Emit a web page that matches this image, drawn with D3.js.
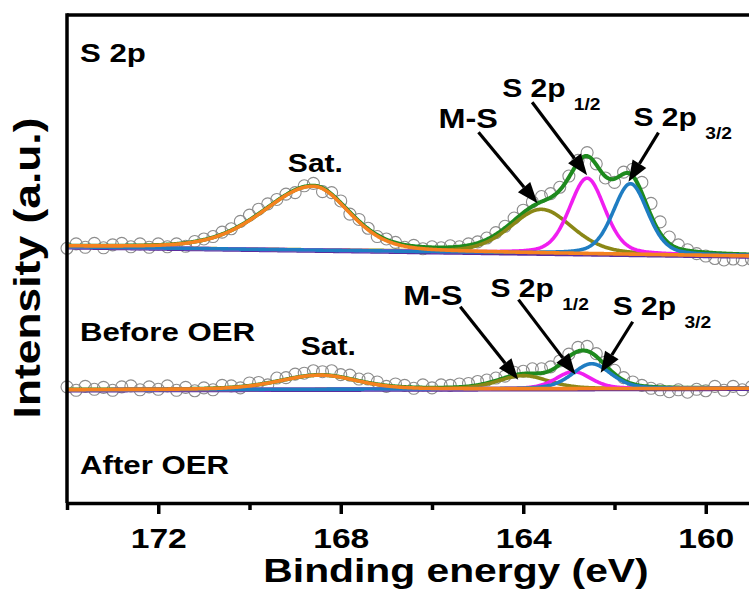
<!DOCTYPE html>
<html>
<head>
<meta charset="utf-8">
<script src="https://cdn.jsdelivr.net/npm/d3@7"></script>
<style>
  body { margin: 0; background: #fff; }
  svg { display: block; font-family: Arial, "Liberation Sans", sans-serif; font-weight: bold; }
</style>
</head>
<body>
<div class="chart"></div>
<script>
// ---- data (binding energy in eV, intensity in a.u.) ----
const energyStart = 174, energyStep = 0.2;   // measured points run 174.0 -> 159.0

// S 2p, before OER (one row per eV)
const beforeCounts = [
  52.2,
  53.1, 52.4, 53.2, 52.3, 52.9,
  53.2, 52.5, 53.1, 52.4, 53.1,
  52.5, 53.1, 52.6, 53.6, 54.1,
  54.6, 55.5, 56.2, 57.7, 59.0,
  60.2, 61.3, 62.2, 63.3, 63.6,
  65.0, 65.5, 63.8, 63.6, 61.9,
  59.2, 58.1, 56.3, 54.6, 54.1,
  53.4, 52.4, 52.8, 52.1, 52.5,
  52.3, 52.7, 52.5, 53.1, 53.5,
  54.3, 55.4, 56.7, 58.4, 60.0,
  61.7, 62.8, 63.4, 64.7, 67.0,
  70.2, 71.8, 69.5, 66.6, 65.7,
  67.8, 68.4, 65.7, 61.4, 57.6,
  54.5, 52.9, 51.9, 51.1, 50.6,
  50.1, 49.8, 50.0, 49.8, 50.0
];

// S 2p, after OER
const afterCounts = [
  23.8,
  23.1, 23.9, 23.3, 23.7, 23.1,
  23.8, 24.0, 23.2, 23.8, 23.3,
  24.0, 23.1, 23.7, 23.0, 23.6,
  23.2, 24.1, 24.0, 23.6, 24.6,
  24.7, 24.2, 25.6, 25.7, 26.4,
  26.6, 27.1, 26.9, 27.1, 26.3,
  26.2, 25.4, 25.4, 24.8, 23.9,
  24.4, 24.1, 23.5, 24.2, 23.6,
  24.2, 24.1, 24.4, 24.5, 24.9,
  25.2, 25.6, 26.0, 26.8, 27.0,
  27.5, 27.5, 27.9, 29.1, 30.5,
  31.9, 32.1, 30.6, 28.9, 27.2,
  25.7, 24.8, 24.1, 23.5, 23.2,
  22.8, 23.2, 22.7, 23.3, 23.0,
  23.9, 23.1, 23.9, 23.2, 23.8
];

// fitted components: Sat., M-S, S 2p1/2, S 2p3/2
const peakNames = ['Sat.', 'M-S', 'S 2p', 'S 2p'];
const peakSubs = ['', '', '1/2', '3/2'];

const beforeCenters = [168.6, 163.6, 162.6, 161.65];
const beforeHeights = [13.1, 9.0, 15.5, 14.5];
const beforeWidthsHigh = [2.6, 1.6, 0.92, 0.9];   // FWHM on the high-BE side
const beforeWidthsLow = [1.85, 1.6, 0.92, 0.9];   // FWHM on the low-BE side
const beforeBackground = [52.5, 50.6];            // at 174 eV and 159 eV

const afterCenters = [168.45, 164.0, 162.9, 162.5];
const afterHeights = [2.9, 2.7, 3.5, 5.1];
const afterWidthsHigh = [2.1, 1.3, 0.9, 1.0];
const afterWidthsLow = [1.9, 1.3, 0.9, 1.0];
const afterBackground = [23.2, 23.5];

const majorTicks = [172, 168, 164, 160];
const minorTicks = [174, 170, 166, 162, 158];

// ---- styles ----
const peakColors = ['#f5821f', '#8a8716', '#f01ef0', '#1f7dc2'];
const envelopeColor = '#1e8a1e';
const backgroundColor = '#5b2d9e';
const SX = 1.2;   // the lettering in the source figure is stretched sideways
const mix = 0.3;  // lorentzian share of the pseudo-voigt

const container = d3.select('.chart');
const outerW = 749, outerH = 592;
const margin = { left: 67, top: 15, bottom: 89 };

const x = d3.scaleLinear().domain([174, 158]).range([margin.left, margin.left + 730]);
const y = d3.scaleLinear().domain([0, 100]).range([outerH - margin.bottom, margin.top]);

function voigt(e, c, h, wHigh, wLow) {
  const t = (e - c) / (e > c ? wHigh : wLow);
  const t2 = t * t;
  return h * ((1 - mix) * Math.exp(-4 * Math.LN2 * t2) + mix / (1 + 4 * t2));
}

function text(g, str, px, py, size, anchor) {
  return g.append('g')
    .attr('transform', `translate(${px},${py}) scale(${SX},1)`)
    .append('text')
    .attr('font-size', size)
    .attr('text-anchor', anchor || 'start')
    .text(str);
}

function arrow(g, x1, y1, x2, y2) {
  const a = Math.atan2(y2 - y1, x2 - x1);
  const len = 21, half = 8;
  const bx = x2 - len * Math.cos(a), by = y2 - len * Math.sin(a);
  g.append('line')
    .attr('x1', x1).attr('y1', y1)
    .attr('x2', bx).attr('y2', by)
    .attr('stroke', '#000').attr('stroke-width', 3.2);
  g.append('path')
    .attr('d', `M${x2},${y2}L${bx + half * Math.sin(a)},${by - half * Math.cos(a)}L${bx - half * Math.sin(a)},${by + half * Math.cos(a)}Z`)
    .attr('fill', '#000');
}

function build() {
  container.selectAll('*').remove();

  const svg = container.append('svg')
    .attr('width', outerW)
    .attr('height', outerH);

  const spectra = [
    { counts: beforeCounts, centers: beforeCenters, heights: beforeHeights,
      wHigh: beforeWidthsHigh, wLow: beforeWidthsLow, bg: beforeBackground,
      sat: [2, -14],
      notes: [
        { k: 1, tip: [-4, -6], tail: [-63, -77], label: [-103, -81] },
        { k: 2, tip: [0, -3], tail: [-55, -76], label: [-85, -81] },
        { k: 3, tip: [-2, -2], tail: [28, -51], label: [3, -58] }
      ] },
    { counts: afterCounts, centers: afterCenters, heights: afterHeights,
      wHigh: afterWidthsHigh, wLow: afterWidthsLow, bg: afterBackground,
      sat: [8, -20],
      notes: [
        { k: 1, tip: [-5, 4], tail: [-63, -69], label: [-120, -71] },
        { k: 2, tip: [2, 3], tail: [-55, -72], label: [-83, -75] },
        { k: 3, tip: [9, 9], tail: [41, -42], label: [21, -49] }
      ] }
  ];

  const grid = d3.range(158, 174.0001, 0.02);
  const line = d3.line().x(d => x(d[0])).y(d => y(d[1]));

  const plot = svg.append('g');

  spectra.forEach(s => {
    const bgAt = e => s.bg[0] + (s.bg[1] - s.bg[0]) * (174 - e) / 15;
    const comp = (k, e) => voigt(e, s.centers[k], s.heights[k], s.wHigh[k], s.wLow[k]);

    // measured points
    plot.append('g')
      .selectAll('circle')
      .data(s.counts)
      .join('circle')
      .attr('cx', (d, i) => x(energyStart - i * energyStep))
      .attr('cy', d => y(d))
      .attr('r', 6)
      .attr('fill', 'none')
      .attr('stroke', '#8c8c8c')
      .attr('stroke-width', 1.1);

    // background
    plot.append('path')
      .attr('d', line(grid.map(e => [e, bgAt(e) - 0.25])))
      .attr('fill', 'none').attr('stroke', backgroundColor).attr('stroke-width', 3);

    // envelope
    plot.append('path')
      .attr('d', line(grid.map(e => [e, bgAt(e) + d3.sum(s.centers, (c, k) => comp(k, e))])))
      .attr('fill', 'none').attr('stroke', envelopeColor).attr('stroke-width', 4);

    // components, satellite drawn last
    [1, 2, 3, 0].forEach(k => {
      plot.append('path')
        .attr('d', line(grid.map(e => [e, bgAt(e) + comp(k, e)])))
        .attr('fill', 'none').attr('stroke', peakColors[k]).attr('stroke-width', 3.6);
    });

    // annotations
    const peakX = k => x(s.centers[k]);
    const peakY = k => y(bgAt(s.centers[k]) + s.heights[k]);

    text(svg, peakNames[0], peakX(0) + s.sat[0], peakY(0) + s.sat[1], 25, 'middle');

    s.notes.forEach(n => {
      const px = peakX(n.k), py = peakY(n.k);
      arrow(svg, px + n.tail[0], py + n.tail[1], px + n.tip[0], py + n.tip[1]);
      const t = text(svg, peakNames[n.k], px + n.label[0], py + n.label[1], n.k === 1 ? 27 : 25);
      if (peakSubs[n.k]) {
        t.append('tspan').attr('dx', 7).attr('dy', 13).attr('font-size', 16).text(peakSubs[n.k]);
      }
    });
  });

  // frame
  const x0 = margin.left, yTop = margin.top, yBot = outerH - margin.bottom;
  svg.append('line').attr('x1', x0).attr('x2', outerW + 10).attr('y1', yTop).attr('y2', yTop)
    .attr('stroke', '#000').attr('stroke-width', 3.5);
  svg.append('line').attr('x1', x0).attr('x2', x0).attr('y1', yTop - 1.75).attr('y2', yBot)
    .attr('stroke', '#000').attr('stroke-width', 3.5);

  // x axis
  const minor = svg.append('g')
    .attr('transform', `translate(0,${yBot})`)
    .call(d3.axisBottom(x).tickValues(minorTicks).tickSize(7).tickSizeOuter(0).tickFormat(''));
  minor.select('.domain').remove();
  minor.selectAll('line').attr('stroke-width', 3.5);

  const axis = svg.append('g')
    .attr('transform', `translate(0,${yBot})`)
    .call(d3.axisBottom(x).tickValues(majorTicks).tickSize(11).tickSizeOuter(0).tickPadding(14)
      .tickFormat(d3.format('d')));
  axis.select('.domain').attr('stroke-width', 3.5);
  axis.selectAll('line').attr('stroke-width', 3.5);
  axis.selectAll('text')
    .attr('font-size', 28)
    .attr('font-family', 'Arial, "Liberation Sans", sans-serif')
    .attr('font-weight', 'bold')
    .attr('fill', '#000')
    .attr('transform', `scale(${SX},1)`);

  // titles and panel labels
  text(svg, 'Binding energy (eV)', 456, 582, 34, 'middle');
  svg.append('g')
    .attr('transform', `translate(40,268) rotate(-90) scale(${SX},1)`)
    .append('text')
    .attr('font-size', 37)
    .attr('text-anchor', 'middle')
    .text('Intensity (a.u.)');

  text(svg, 'S 2p', 80, 62, 26);
  text(svg, 'Before OER', 80, 341, 26);
  text(svg, 'After OER', 80, 474, 26);
}

build();
</script>
</body>
</html>
